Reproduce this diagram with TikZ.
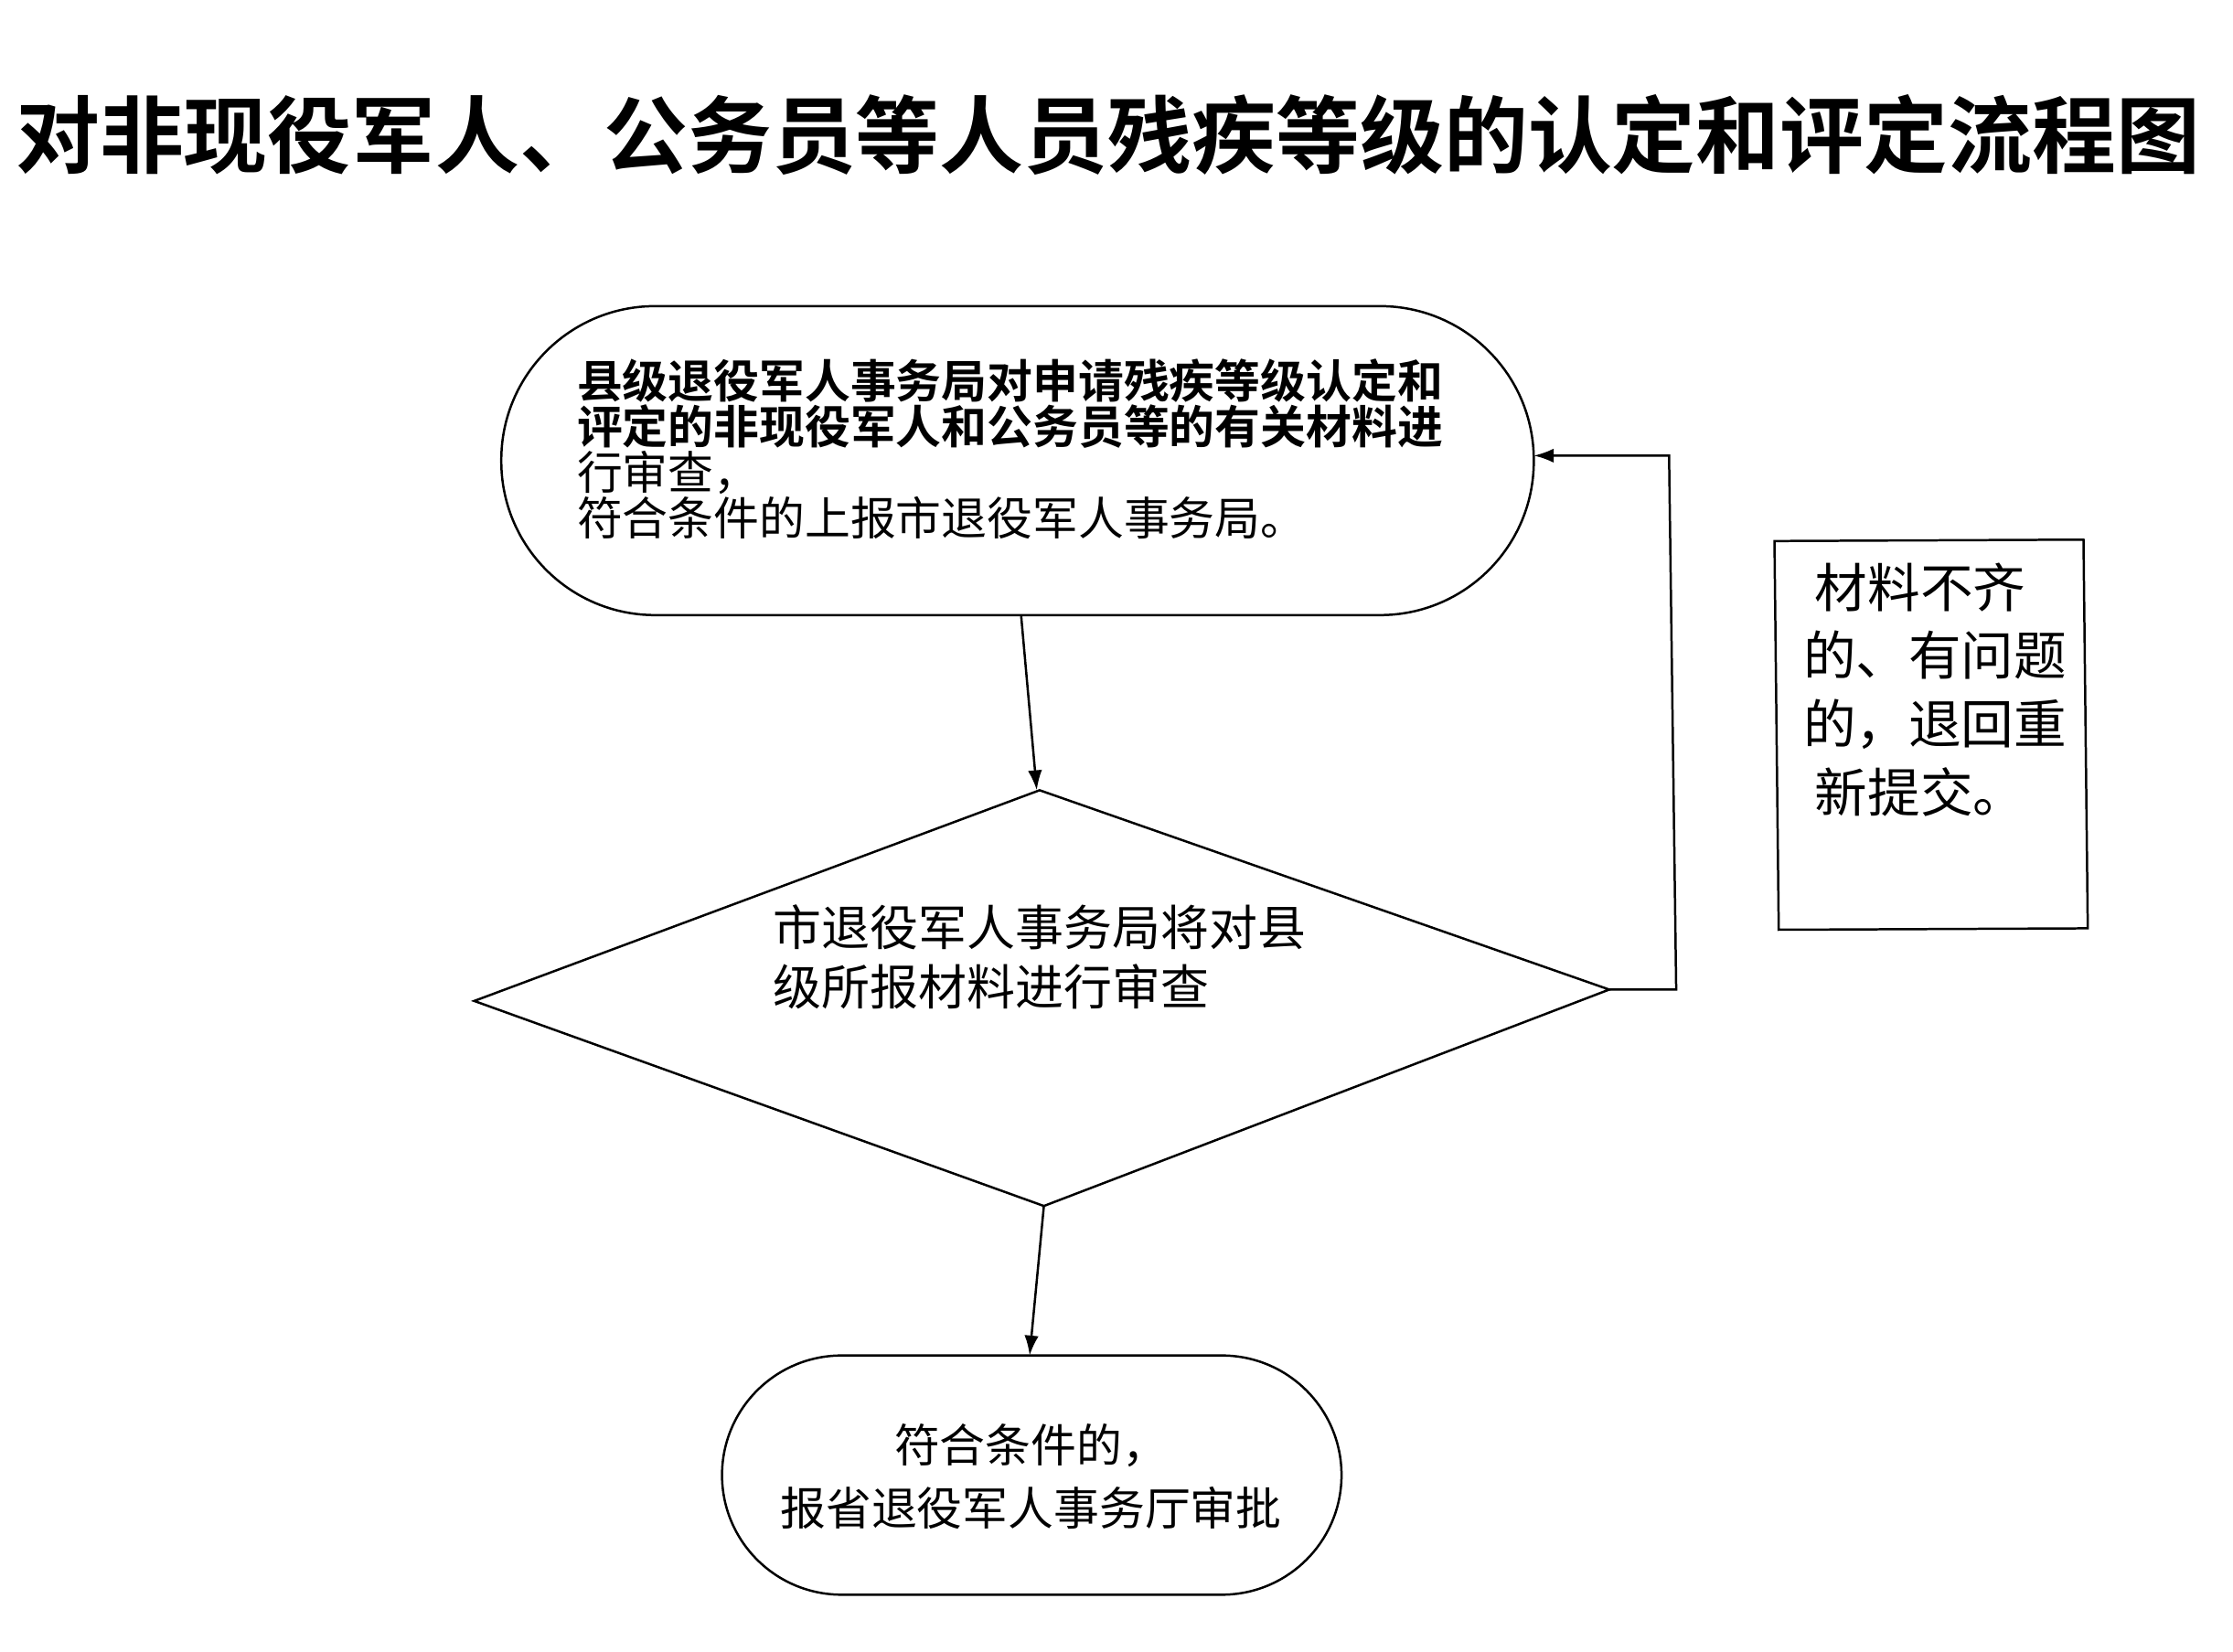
\documentclass[tikz,border=0pt]{standalone}
\usepackage{fontspec}
\newfontfamily\cjk{Noto Sans CJK SC}
\newfontfamily\cjkb{Noto Sans CJK SC Bold}
\usetikzlibrary{arrows.meta}
\begin{document}
\begin{tikzpicture}[x=1pt,y=-1pt,
  line/.style={line width=1.6pt},
  arr/.style={line width=1.6pt,-{Latex[length=14pt,width=10pt]}},
  txt/.style={font=\cjk\fontsize{32}{36}\selectfont, align=left, inner sep=0pt}]
\useasboundingbox (0,0) rectangle (1568,1160);
\node[font=\cjkb\fontsize{59}{63}\selectfont, inner sep=0pt] (title) at (778,95) {对非现役军人、公务员等人员残疾等级的认定和评定流程图};
\draw[line, rounded corners=108pt] (352,215) rectangle (1077,432);
\coordinate (topb) at (717,432);
\coordinate (topr) at (1077,320);
\node[txt, anchor=north west, font=\cjk\fontsize{32}{33}\selectfont] (t1) at (405,252) {{\cjkb 县级退役军人事务局对申请残疾等级认定和}\\[-1pt]{\cjkb 评定的非现役军人和公务员等的有关材料进}\\[-1pt]行审查，\\[-1pt]符合条件的上报市退役军人事务局。};
\draw[line] (333,703) -- (730,555) -- (1130,695) -- (733,847) -- cycle;
\coordinate (dt) at (728,555);
\coordinate (dr) at (1130,695);
\coordinate (db) at (733,847);
\node[txt, anchor=north west, text width=420pt, font=\cjk\fontsize{34}{38}\selectfont] (t2) at (543,635) {市退役军人事务局将对县\\[4pt]级所报材料进行审查};
\draw[line, rounded corners=84pt] (507,952) rectangle (942,1120);
\coordinate (bt) at (723,952);
\node[txt, align=center] (t3) at (724,1037) {符合条件的，\\[8pt]报省退役军人事务厅审批};
\draw[line] (1246,380) -- (1463,379) -- (1466,652) -- (1249,653) -- cycle;
\node[anchor=north west, font=\cjk\fontsize{37}{48}\selectfont, align=left, inner sep=0pt] (t4) at (1266,395) {\ 材料不齐\\的、有问题\\的，退回重\\\ 新提交。};
\draw[arr] (topb) -- (dt);
\draw[arr] (db) -- (bt);
\draw[arr] (dr) -- (1177,695) -- (1172,320) -- (topr);
\end{tikzpicture}
\end{document}
